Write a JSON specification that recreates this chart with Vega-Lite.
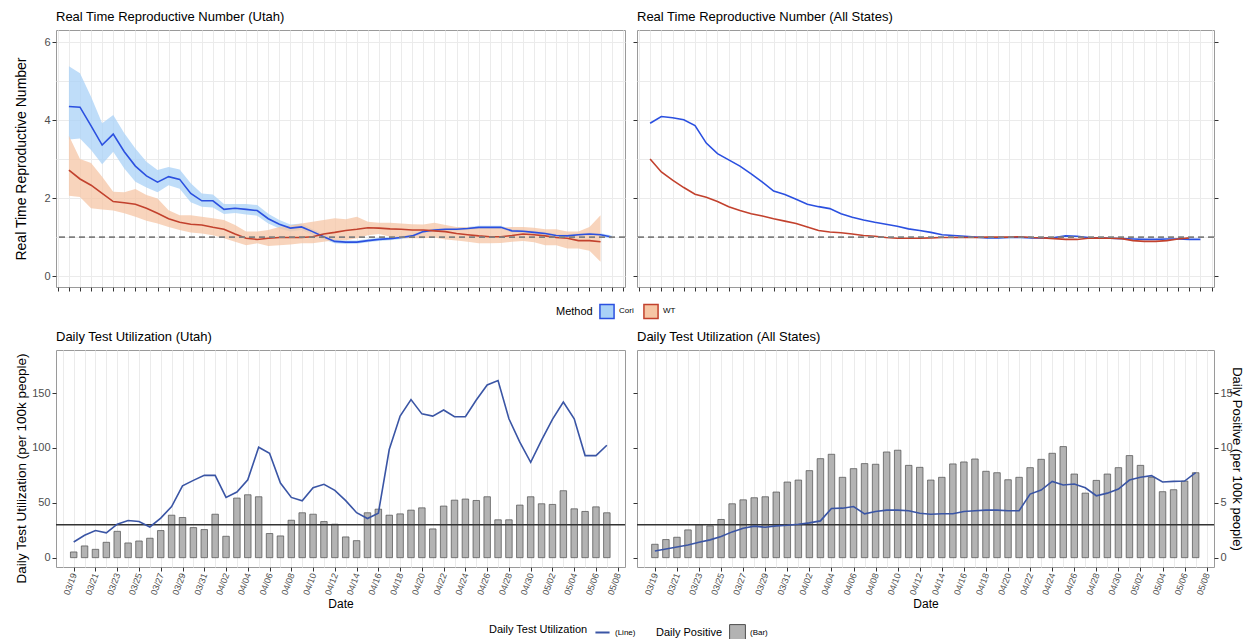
{
  "$schema": "https://vega.github.io/schema/vega-lite/v6.json",
  "padding": {"left": 13, "top": 10, "right": 0, "bottom": 0},
  "spacing": 8,
  "datasets": {
    "utah_rt": [
      {"date":"2020-03-19","method":"Cori","rt":4.35,"lo":3.5,"hi":5.38},
      {"date":"2020-03-20","method":"Cori","rt":4.33,"lo":3.53,"hi":5.2},
      {"date":"2020-03-21","method":"Cori","rt":3.85,"lo":3.23,"hi":4.6},
      {"date":"2020-03-22","method":"Cori","rt":3.36,"lo":2.87,"hi":3.92},
      {"date":"2020-03-23","method":"Cori","rt":3.64,"lo":3.19,"hi":4.13},
      {"date":"2020-03-24","method":"Cori","rt":3.19,"lo":2.76,"hi":3.66},
      {"date":"2020-03-25","method":"Cori","rt":2.82,"lo":2.42,"hi":3.27},
      {"date":"2020-03-26","method":"Cori","rt":2.57,"lo":2.27,"hi":2.93},
      {"date":"2020-03-27","method":"Cori","rt":2.41,"lo":2.15,"hi":2.72},
      {"date":"2020-03-28","method":"Cori","rt":2.55,"lo":2.33,"hi":2.8},
      {"date":"2020-03-29","method":"Cori","rt":2.48,"lo":2.24,"hi":2.73},
      {"date":"2020-03-30","method":"Cori","rt":2.12,"lo":1.89,"hi":2.38},
      {"date":"2020-03-31","method":"Cori","rt":1.93,"lo":1.78,"hi":2.12},
      {"date":"2020-04-01","method":"Cori","rt":1.93,"lo":1.76,"hi":2.09},
      {"date":"2020-04-02","method":"Cori","rt":1.71,"lo":1.59,"hi":1.85},
      {"date":"2020-04-03","method":"Cori","rt":1.74,"lo":1.62,"hi":1.85},
      {"date":"2020-04-04","method":"Cori","rt":1.71,"lo":1.58,"hi":1.85},
      {"date":"2020-04-05","method":"Cori","rt":1.68,"lo":1.55,"hi":1.82},
      {"date":"2020-04-06","method":"Cori","rt":1.47,"lo":1.35,"hi":1.6},
      {"date":"2020-04-07","method":"Cori","rt":1.33,"lo":1.22,"hi":1.44},
      {"date":"2020-04-08","method":"Cori","rt":1.23,"lo":1.14,"hi":1.32},
      {"date":"2020-04-09","method":"Cori","rt":1.26,"lo":1.18,"hi":1.35},
      {"date":"2020-04-10","method":"Cori","rt":1.14,"lo":1.06,"hi":1.2},
      {"date":"2020-04-11","method":"Cori","rt":1.01,"lo":0.94,"hi":1.08},
      {"date":"2020-04-12","method":"Cori","rt":0.89,"lo":0.84,"hi":0.94},
      {"date":"2020-04-13","method":"Cori","rt":0.87,"lo":0.82,"hi":0.91},
      {"date":"2020-04-14","method":"Cori","rt":0.87,"lo":0.83,"hi":0.91},
      {"date":"2020-04-15","method":"Cori","rt":0.91,"lo":0.87,"hi":0.95},
      {"date":"2020-04-16","method":"Cori","rt":0.94,"lo":0.9,"hi":0.98},
      {"date":"2020-04-17","method":"Cori","rt":0.96,"lo":0.92,"hi":1.0},
      {"date":"2020-04-18","method":"Cori","rt":0.99,"lo":0.95,"hi":1.03},
      {"date":"2020-04-19","method":"Cori","rt":1.03,"lo":0.99,"hi":1.07},
      {"date":"2020-04-20","method":"Cori","rt":1.14,"lo":1.1,"hi":1.18},
      {"date":"2020-04-21","method":"Cori","rt":1.18,"lo":1.14,"hi":1.22},
      {"date":"2020-04-22","method":"Cori","rt":1.2,"lo":1.16,"hi":1.24},
      {"date":"2020-04-23","method":"Cori","rt":1.2,"lo":1.16,"hi":1.24},
      {"date":"2020-04-24","method":"Cori","rt":1.22,"lo":1.18,"hi":1.26},
      {"date":"2020-04-25","method":"Cori","rt":1.25,"lo":1.21,"hi":1.29},
      {"date":"2020-04-26","method":"Cori","rt":1.25,"lo":1.21,"hi":1.29},
      {"date":"2020-04-27","method":"Cori","rt":1.25,"lo":1.21,"hi":1.29},
      {"date":"2020-04-28","method":"Cori","rt":1.16,"lo":1.12,"hi":1.2},
      {"date":"2020-04-29","method":"Cori","rt":1.15,"lo":1.11,"hi":1.19},
      {"date":"2020-04-30","method":"Cori","rt":1.12,"lo":1.08,"hi":1.16},
      {"date":"2020-05-01","method":"Cori","rt":1.09,"lo":1.05,"hi":1.13},
      {"date":"2020-05-02","method":"Cori","rt":1.04,"lo":1.0,"hi":1.08},
      {"date":"2020-05-03","method":"Cori","rt":1.03,"lo":0.99,"hi":1.07},
      {"date":"2020-05-04","method":"Cori","rt":1.06,"lo":1.02,"hi":1.1},
      {"date":"2020-05-05","method":"Cori","rt":1.08,"lo":1.04,"hi":1.12},
      {"date":"2020-05-06","method":"Cori","rt":1.06,"lo":1.02,"hi":1.1},
      {"date":"2020-05-07","method":"Cori","rt":1.0,"lo":0.96,"hi":1.04},
      {"date":"2020-03-19","method":"WT","rt":2.72,"lo":2.06,"hi":3.6},
      {"date":"2020-03-20","method":"WT","rt":2.49,"lo":2.03,"hi":3.0},
      {"date":"2020-03-21","method":"WT","rt":2.33,"lo":1.74,"hi":2.9},
      {"date":"2020-03-22","method":"WT","rt":2.12,"lo":1.71,"hi":2.55},
      {"date":"2020-03-23","method":"WT","rt":1.91,"lo":1.68,"hi":2.16},
      {"date":"2020-03-24","method":"WT","rt":1.88,"lo":1.61,"hi":2.15},
      {"date":"2020-03-25","method":"WT","rt":1.84,"lo":1.52,"hi":2.23},
      {"date":"2020-03-26","method":"WT","rt":1.74,"lo":1.42,"hi":2.08},
      {"date":"2020-03-27","method":"WT","rt":1.61,"lo":1.35,"hi":1.99},
      {"date":"2020-03-28","method":"WT","rt":1.47,"lo":1.26,"hi":1.69},
      {"date":"2020-03-29","method":"WT","rt":1.38,"lo":1.18,"hi":1.56},
      {"date":"2020-03-30","method":"WT","rt":1.33,"lo":1.12,"hi":1.56},
      {"date":"2020-03-31","method":"WT","rt":1.31,"lo":1.09,"hi":1.52},
      {"date":"2020-04-01","method":"WT","rt":1.25,"lo":1.05,"hi":1.48},
      {"date":"2020-04-02","method":"WT","rt":1.2,"lo":0.97,"hi":1.44},
      {"date":"2020-04-03","method":"WT","rt":1.08,"lo":0.88,"hi":1.31},
      {"date":"2020-04-04","method":"WT","rt":0.97,"lo":0.79,"hi":1.14},
      {"date":"2020-04-05","method":"WT","rt":0.94,"lo":0.84,"hi":1.14},
      {"date":"2020-04-06","method":"WT","rt":0.97,"lo":0.77,"hi":1.18},
      {"date":"2020-04-07","method":"WT","rt":0.99,"lo":0.79,"hi":1.26},
      {"date":"2020-04-08","method":"WT","rt":0.99,"lo":0.81,"hi":1.3},
      {"date":"2020-04-09","method":"WT","rt":0.99,"lo":0.84,"hi":1.35},
      {"date":"2020-04-10","method":"WT","rt":1.01,"lo":0.84,"hi":1.39},
      {"date":"2020-04-11","method":"WT","rt":1.08,"lo":0.88,"hi":1.44},
      {"date":"2020-04-12","method":"WT","rt":1.12,"lo":0.92,"hi":1.48},
      {"date":"2020-04-13","method":"WT","rt":1.17,"lo":0.92,"hi":1.46},
      {"date":"2020-04-14","method":"WT","rt":1.2,"lo":0.97,"hi":1.52},
      {"date":"2020-04-15","method":"WT","rt":1.24,"lo":1.05,"hi":1.39},
      {"date":"2020-04-16","method":"WT","rt":1.23,"lo":1.08,"hi":1.37},
      {"date":"2020-04-17","method":"WT","rt":1.21,"lo":1.01,"hi":1.37},
      {"date":"2020-04-18","method":"WT","rt":1.2,"lo":0.97,"hi":1.35},
      {"date":"2020-04-19","method":"WT","rt":1.18,"lo":0.97,"hi":1.33},
      {"date":"2020-04-20","method":"WT","rt":1.18,"lo":0.97,"hi":1.32},
      {"date":"2020-04-21","method":"WT","rt":1.16,"lo":0.99,"hi":1.37},
      {"date":"2020-04-22","method":"WT","rt":1.14,"lo":0.94,"hi":1.31},
      {"date":"2020-04-23","method":"WT","rt":1.09,"lo":0.91,"hi":1.26},
      {"date":"2020-04-24","method":"WT","rt":1.06,"lo":0.88,"hi":1.25},
      {"date":"2020-04-25","method":"WT","rt":1.03,"lo":0.84,"hi":1.26},
      {"date":"2020-04-26","method":"WT","rt":1.01,"lo":0.84,"hi":1.25},
      {"date":"2020-04-27","method":"WT","rt":1.01,"lo":0.85,"hi":1.24},
      {"date":"2020-04-28","method":"WT","rt":1.04,"lo":0.88,"hi":1.26},
      {"date":"2020-04-29","method":"WT","rt":1.08,"lo":0.9,"hi":1.26},
      {"date":"2020-04-30","method":"WT","rt":1.06,"lo":0.87,"hi":1.24},
      {"date":"2020-05-01","method":"WT","rt":1.03,"lo":0.79,"hi":1.2},
      {"date":"2020-05-02","method":"WT","rt":0.99,"lo":0.79,"hi":1.2},
      {"date":"2020-05-03","method":"WT","rt":0.97,"lo":0.71,"hi":1.14},
      {"date":"2020-05-04","method":"WT","rt":0.91,"lo":0.71,"hi":1.14},
      {"date":"2020-05-05","method":"WT","rt":0.91,"lo":0.65,"hi":1.26},
      {"date":"2020-05-06","method":"WT","rt":0.88,"lo":0.37,"hi":1.56}
    ],
    "all_rt": [
      {"date":"2020-03-19","method":"Cori","rt":3.92},
      {"date":"2020-03-20","method":"Cori","rt":4.09},
      {"date":"2020-03-21","method":"Cori","rt":4.06},
      {"date":"2020-03-22","method":"Cori","rt":4.01},
      {"date":"2020-03-23","method":"Cori","rt":3.86},
      {"date":"2020-03-24","method":"Cori","rt":3.41},
      {"date":"2020-03-25","method":"Cori","rt":3.14},
      {"date":"2020-03-26","method":"Cori","rt":2.98},
      {"date":"2020-03-27","method":"Cori","rt":2.82},
      {"date":"2020-03-28","method":"Cori","rt":2.62},
      {"date":"2020-03-29","method":"Cori","rt":2.41},
      {"date":"2020-03-30","method":"Cori","rt":2.18},
      {"date":"2020-03-31","method":"Cori","rt":2.09},
      {"date":"2020-04-01","method":"Cori","rt":1.97},
      {"date":"2020-04-02","method":"Cori","rt":1.84},
      {"date":"2020-04-03","method":"Cori","rt":1.78},
      {"date":"2020-04-04","method":"Cori","rt":1.73},
      {"date":"2020-04-05","method":"Cori","rt":1.6},
      {"date":"2020-04-06","method":"Cori","rt":1.51},
      {"date":"2020-04-07","method":"Cori","rt":1.44},
      {"date":"2020-04-08","method":"Cori","rt":1.38},
      {"date":"2020-04-09","method":"Cori","rt":1.33},
      {"date":"2020-04-10","method":"Cori","rt":1.28},
      {"date":"2020-04-11","method":"Cori","rt":1.21},
      {"date":"2020-04-12","method":"Cori","rt":1.17},
      {"date":"2020-04-13","method":"Cori","rt":1.12},
      {"date":"2020-04-14","method":"Cori","rt":1.06},
      {"date":"2020-04-15","method":"Cori","rt":1.04},
      {"date":"2020-04-16","method":"Cori","rt":1.02},
      {"date":"2020-04-17","method":"Cori","rt":1.0},
      {"date":"2020-04-18","method":"Cori","rt":0.98},
      {"date":"2020-04-19","method":"Cori","rt":0.98},
      {"date":"2020-04-20","method":"Cori","rt":0.99},
      {"date":"2020-04-21","method":"Cori","rt":0.99},
      {"date":"2020-04-22","method":"Cori","rt":0.98},
      {"date":"2020-04-23","method":"Cori","rt":0.98},
      {"date":"2020-04-24","method":"Cori","rt":0.99},
      {"date":"2020-04-25","method":"Cori","rt":1.03},
      {"date":"2020-04-26","method":"Cori","rt":1.02},
      {"date":"2020-04-27","method":"Cori","rt":0.99},
      {"date":"2020-04-28","method":"Cori","rt":0.98},
      {"date":"2020-04-29","method":"Cori","rt":0.97},
      {"date":"2020-04-30","method":"Cori","rt":0.96},
      {"date":"2020-05-01","method":"Cori","rt":0.95},
      {"date":"2020-05-02","method":"Cori","rt":0.94},
      {"date":"2020-05-03","method":"Cori","rt":0.94},
      {"date":"2020-05-04","method":"Cori","rt":0.95},
      {"date":"2020-05-05","method":"Cori","rt":0.95},
      {"date":"2020-05-06","method":"Cori","rt":0.94},
      {"date":"2020-05-07","method":"Cori","rt":0.94},
      {"date":"2020-03-19","method":"WT","rt":3.0},
      {"date":"2020-03-20","method":"WT","rt":2.67},
      {"date":"2020-03-21","method":"WT","rt":2.46},
      {"date":"2020-03-22","method":"WT","rt":2.27},
      {"date":"2020-03-23","method":"WT","rt":2.1},
      {"date":"2020-03-24","method":"WT","rt":2.02},
      {"date":"2020-03-25","method":"WT","rt":1.91},
      {"date":"2020-03-26","method":"WT","rt":1.78},
      {"date":"2020-03-27","method":"WT","rt":1.68},
      {"date":"2020-03-28","method":"WT","rt":1.6},
      {"date":"2020-03-29","method":"WT","rt":1.54},
      {"date":"2020-03-30","method":"WT","rt":1.47},
      {"date":"2020-03-31","method":"WT","rt":1.41},
      {"date":"2020-04-01","method":"WT","rt":1.35},
      {"date":"2020-04-02","method":"WT","rt":1.26},
      {"date":"2020-04-03","method":"WT","rt":1.17},
      {"date":"2020-04-04","method":"WT","rt":1.13},
      {"date":"2020-04-05","method":"WT","rt":1.11},
      {"date":"2020-04-06","method":"WT","rt":1.08},
      {"date":"2020-04-07","method":"WT","rt":1.04},
      {"date":"2020-04-08","method":"WT","rt":1.02},
      {"date":"2020-04-09","method":"WT","rt":0.99},
      {"date":"2020-04-10","method":"WT","rt":0.97},
      {"date":"2020-04-11","method":"WT","rt":0.97},
      {"date":"2020-04-12","method":"WT","rt":0.97},
      {"date":"2020-04-13","method":"WT","rt":0.98},
      {"date":"2020-04-14","method":"WT","rt":0.99},
      {"date":"2020-04-15","method":"WT","rt":0.99},
      {"date":"2020-04-16","method":"WT","rt":0.99},
      {"date":"2020-04-17","method":"WT","rt":0.99},
      {"date":"2020-04-18","method":"WT","rt":1.0},
      {"date":"2020-04-19","method":"WT","rt":1.0},
      {"date":"2020-04-20","method":"WT","rt":1.0},
      {"date":"2020-04-21","method":"WT","rt":1.01},
      {"date":"2020-04-22","method":"WT","rt":0.99},
      {"date":"2020-04-23","method":"WT","rt":0.98},
      {"date":"2020-04-24","method":"WT","rt":0.96},
      {"date":"2020-04-25","method":"WT","rt":0.94},
      {"date":"2020-04-26","method":"WT","rt":0.94},
      {"date":"2020-04-27","method":"WT","rt":0.97},
      {"date":"2020-04-28","method":"WT","rt":0.98},
      {"date":"2020-04-29","method":"WT","rt":0.97},
      {"date":"2020-04-30","method":"WT","rt":0.96},
      {"date":"2020-05-01","method":"WT","rt":0.91},
      {"date":"2020-05-02","method":"WT","rt":0.89},
      {"date":"2020-05-03","method":"WT","rt":0.89},
      {"date":"2020-05-04","method":"WT","rt":0.91},
      {"date":"2020-05-05","method":"WT","rt":0.95},
      {"date":"2020-05-06","method":"WT","rt":0.98}
    ],
    "utah_tests": [
      {"date":"2020-03-19","tests":14.3,"positive":0.52},
      {"date":"2020-03-20","tests":20.4,"positive":1.07},
      {"date":"2020-03-21","tests":24.7,"positive":0.76},
      {"date":"2020-03-22","tests":22.6,"positive":1.4},
      {"date":"2020-03-23","tests":30.5,"positive":2.4},
      {"date":"2020-03-24","tests":33.8,"positive":1.34},
      {"date":"2020-03-25","tests":32.9,"positive":1.52},
      {"date":"2020-03-26","tests":28.0,"positive":1.77},
      {"date":"2020-03-27","tests":36.0,"positive":2.47},
      {"date":"2020-03-28","tests":46.6,"positive":3.87},
      {"date":"2020-03-29","tests":65.5,"positive":3.66},
      {"date":"2020-03-30","tests":70.4,"positive":2.74},
      {"date":"2020-03-31","tests":75.0,"positive":2.56},
      {"date":"2020-04-01","tests":75.0,"positive":3.96},
      {"date":"2020-04-02","tests":54.9,"positive":1.95},
      {"date":"2020-04-03","tests":59.8,"positive":5.43},
      {"date":"2020-04-04","tests":71.0,"positive":5.73},
      {"date":"2020-04-05","tests":100.6,"positive":5.55},
      {"date":"2020-04-06","tests":95.1,"positive":2.2},
      {"date":"2020-04-07","tests":68.0,"positive":1.98},
      {"date":"2020-04-08","tests":54.9,"positive":3.41},
      {"date":"2020-04-09","tests":51.8,"positive":4.09},
      {"date":"2020-04-10","tests":63.7,"positive":3.96},
      {"date":"2020-04-11","tests":66.8,"positive":3.29},
      {"date":"2020-04-12","tests":61.3,"positive":3.05},
      {"date":"2020-04-13","tests":52.0,"positive":1.89},
      {"date":"2020-04-14","tests":41.0,"positive":1.55},
      {"date":"2020-04-15","tests":35.7,"positive":4.09},
      {"date":"2020-04-16","tests":40.5,"positive":4.42},
      {"date":"2020-04-17","tests":98.5,"positive":3.87},
      {"date":"2020-04-18","tests":129.0,"positive":3.99},
      {"date":"2020-04-19","tests":144.0,"positive":4.33},
      {"date":"2020-04-20","tests":131.0,"positive":4.54},
      {"date":"2020-04-21","tests":129.0,"positive":2.62},
      {"date":"2020-04-22","tests":134.5,"positive":4.7},
      {"date":"2020-04-23","tests":128.4,"positive":5.24},
      {"date":"2020-04-24","tests":128.4,"positive":5.34},
      {"date":"2020-04-25","tests":143.6,"positive":5.21},
      {"date":"2020-04-26","tests":157.3,"positive":5.55},
      {"date":"2020-04-27","tests":161.3,"positive":3.45},
      {"date":"2020-04-28","tests":126.5,"positive":3.45},
      {"date":"2020-04-29","tests":105.2,"positive":4.79},
      {"date":"2020-04-30","tests":86.9,"positive":5.55},
      {"date":"2020-05-01","tests":107.0,"positive":4.91},
      {"date":"2020-05-02","tests":126.0,"positive":4.85},
      {"date":"2020-05-03","tests":141.8,"positive":6.1},
      {"date":"2020-05-04","tests":126.5,"positive":4.45},
      {"date":"2020-05-05","tests":93.0,"positive":4.21},
      {"date":"2020-05-06","tests":93.0,"positive":4.63},
      {"date":"2020-05-07","tests":102.4,"positive":4.09}
    ],
    "all_tests": [
      {"date":"2020-03-19","tests":6.1,"positive":1.22},
      {"date":"2020-03-20","tests":7.9,"positive":1.65},
      {"date":"2020-03-21","tests":9.8,"positive":1.86},
      {"date":"2020-03-22","tests":11.6,"positive":2.53},
      {"date":"2020-03-23","tests":14.0,"positive":3.02},
      {"date":"2020-03-24","tests":16.2,"positive":2.9},
      {"date":"2020-03-25","tests":19.2,"positive":3.48},
      {"date":"2020-03-26","tests":23.5,"positive":4.91},
      {"date":"2020-03-27","tests":26.8,"positive":5.27},
      {"date":"2020-03-28","tests":28.7,"positive":5.46},
      {"date":"2020-03-29","tests":27.7,"positive":5.55},
      {"date":"2020-03-30","tests":29.0,"positive":5.98},
      {"date":"2020-03-31","tests":29.6,"positive":6.89},
      {"date":"2020-04-01","tests":30.5,"positive":7.07},
      {"date":"2020-04-02","tests":31.7,"positive":7.93},
      {"date":"2020-04-03","tests":33.5,"positive":9.02},
      {"date":"2020-04-04","tests":44.8,"positive":9.42},
      {"date":"2020-04-05","tests":45.1,"positive":7.32},
      {"date":"2020-04-06","tests":46.6,"positive":8.11},
      {"date":"2020-04-07","tests":39.9,"positive":8.57},
      {"date":"2020-04-08","tests":42.0,"positive":8.51},
      {"date":"2020-04-09","tests":43.3,"positive":9.63},
      {"date":"2020-04-10","tests":43.3,"positive":9.79},
      {"date":"2020-04-11","tests":42.7,"positive":8.41},
      {"date":"2020-04-12","tests":40.5,"positive":8.23},
      {"date":"2020-04-13","tests":39.6,"positive":7.07},
      {"date":"2020-04-14","tests":40.0,"positive":7.32},
      {"date":"2020-04-15","tests":40.0,"positive":8.54},
      {"date":"2020-04-16","tests":42.0,"positive":8.72},
      {"date":"2020-04-17","tests":42.7,"positive":8.99},
      {"date":"2020-04-18","tests":43.3,"positive":7.87},
      {"date":"2020-04-19","tests":43.3,"positive":7.74},
      {"date":"2020-04-20","tests":42.7,"positive":7.1},
      {"date":"2020-04-21","tests":42.7,"positive":7.32},
      {"date":"2020-04-22","tests":57.9,"positive":8.2},
      {"date":"2020-04-23","tests":61.6,"positive":8.96},
      {"date":"2020-04-24","tests":69.5,"positive":9.51},
      {"date":"2020-04-25","tests":66.2,"positive":10.12},
      {"date":"2020-04-26","tests":67.1,"positive":7.62},
      {"date":"2020-04-27","tests":63.7,"positive":5.88},
      {"date":"2020-04-28","tests":56.4,"positive":7.04},
      {"date":"2020-04-29","tests":58.8,"positive":7.62},
      {"date":"2020-04-30","tests":62.5,"positive":8.2},
      {"date":"2020-05-01","tests":70.7,"positive":9.3},
      {"date":"2020-05-02","tests":73.2,"positive":8.41},
      {"date":"2020-05-03","tests":74.7,"positive":7.32},
      {"date":"2020-05-04","tests":68.9,"positive":6.01},
      {"date":"2020-05-05","tests":69.5,"positive":6.19},
      {"date":"2020-05-06","tests":69.8,"positive":6.98},
      {"date":"2020-05-07","tests":77.4,"positive":7.74}
    ]
  },
  "vconcat": [
    {
      "spacing": 5,
      "hconcat": [
        {
          "title": "Real Time Reproductive Number (Utah)",
          "width": 569, "height": 257,
          "layer": [
            {"data": {"name": "utah_rt"},
             "mark": {"type": "area", "fillOpacity": 0.75},
             "encoding": {
               "x": {"field": "date", "type": "temporal", "title": null,
                 "scale": {"type": "utc", "domain": [{"year":2020,"month":3,"date":17,"hours":20,"utc":true},{"year":2020,"month":5,"date":8,"hours":5,"utc":true}]},
                 "axis": {"tickCount": {"interval": "day", "step": 1}, "labels": false, "grid": true}},
               "y": {"field": "lo", "type": "quantitative", "stack": null, "scale": {"domain": [-0.28, 6.31], "nice": false, "zero": false},
                 "axis": {"title": "Real Time Reproductive Number", "values": [0,1,2,3,4,5,6], "labelExpr": "datum.value % 2 == 0 ? datum.label : ''", "tickOpacity": {"condition": {"test": "datum.value % 2 == 0", "value": 1}, "value": 0}, "minExtent": 24, "maxExtent": 24, "titlePadding": 4}},
               "y2": {"field": "hi"},
               "fill": {"field": "method", "type": "nominal", "title": "Method", "scale": {"domain": ["Cori","WT"], "range": ["#a9d1f7","#f6c6a5"]}, "legend": {"title": "Method", "symbolType": "square", "symbolStrokeWidth": 1.5, "symbolSize": 200, "offset": 11}}
             }},
            {"data": {"name": "utah_rt"},
             "mark": {"type": "line", "strokeWidth": 1.6},
             "encoding": {
               "x": {"field": "date", "type": "temporal", "title": null,
                 "scale": {"type": "utc", "domain": [{"year":2020,"month":3,"date":17,"hours":20,"utc":true},{"year":2020,"month":5,"date":8,"hours":5,"utc":true}]},
                 "axis": {"tickCount": {"interval": "day", "step": 1}, "labels": false, "grid": true}},
               "y": {"field": "rt", "type": "quantitative", "scale": {"domain": [-0.28, 6.31], "nice": false, "zero": false},
                 "axis": {"title": "Real Time Reproductive Number", "values": [0,1,2,3,4,5,6], "labelExpr": "datum.value % 2 == 0 ? datum.label : ''", "tickOpacity": {"condition": {"test": "datum.value % 2 == 0", "value": 1}, "value": 0}, "minExtent": 24, "maxExtent": 24, "titlePadding": 4}},
               "stroke": {"field": "method", "type": "nominal", "title": "Method", "scale": {"domain": ["Cori","WT"], "range": ["#2b50e0","#c2412d"]}, "legend": {"title": "Method", "symbolType": "square", "symbolStrokeWidth": 1.5, "symbolSize": 200, "offset": 11}}
             }},
            {"data": {"values": [{}]},
             "mark": {"type": "rule", "strokeDash": [6,4], "color": "#7f7f7f", "strokeWidth": 1.8},
             "encoding": {
               "y": {"datum": 1, "type": "quantitative", "scale": {"domain": [-0.28, 6.31], "nice": false, "zero": false},
                 "axis": {"title": "Real Time Reproductive Number", "values": [0,1,2,3,4,5,6], "labelExpr": "datum.value % 2 == 0 ? datum.label : ''", "tickOpacity": {"condition": {"test": "datum.value % 2 == 0", "value": 1}, "value": 0}, "minExtent": 24, "maxExtent": 24, "titlePadding": 4}}
             }}
          ]
        },
        {
          "title": "Real Time Reproductive Number (All States)",
          "width": 577, "height": 257,
          "layer": [
            {"data": {"name": "all_rt"},
             "mark": {"type": "line", "strokeWidth": 1.6},
             "encoding": {
               "x": {"field": "date", "type": "temporal", "title": null,
                 "scale": {"type": "utc", "domain": [{"year":2020,"month":3,"date":17,"hours":20,"utc":true},{"year":2020,"month":5,"date":8,"hours":5,"utc":true}]},
                 "axis": {"tickCount": {"interval": "day", "step": 1}, "labels": false, "grid": true}},
               "y": {"field": "rt", "type": "quantitative", "scale": {"domain": [-0.28, 6.31], "nice": false, "zero": false},
                 "axis": {"title": null, "labels": false, "values": [0,1,2,3,4,5,6], "tickOpacity": {"condition": {"test": "datum.value % 2 == 0", "value": 1}, "value": 0}, "minExtent": 4, "maxExtent": 4}},
               "stroke": {"field": "method", "type": "nominal", "title": "Method", "scale": {"domain": ["Cori","WT"], "range": ["#2b50e0","#c2412d"]}, "legend": {"title": "Method", "symbolType": "square", "symbolStrokeWidth": 1.5, "symbolSize": 200, "offset": 11}}
             }},
            {"data": {"values": [{}]},
             "mark": {"type": "rule", "strokeDash": [6,4], "color": "#7f7f7f", "strokeWidth": 1.8},
             "encoding": {
               "y": {"datum": 1, "type": "quantitative", "scale": {"domain": [-0.28, 6.31], "nice": false, "zero": false},
                 "axis": {"orient": "right", "title": null, "labels": false, "grid": false, "values": [0,2,4,6], "minExtent": 4, "maxExtent": 4}}
             }}
          ],
          "resolve": {"axis": {"y": "independent"}}
        }
      ]
    },
    {
      "spacing": 5,
      "hconcat": [
        {
          "title": "Daily Test Utilization (Utah)",
          "width": 569, "height": 217,
          "layer": [
            {"data": {"name": "utah_tests"},
             "mark": {"type": "bar", "width": 6.5, "fill": "#b3b3b3", "stroke": "#4d4d4d", "strokeWidth": 0.7},
             "encoding": {
               "x": {"field": "date", "type": "temporal", "title": "Date",
                 "scale": {"type": "utc", "domain": [{"year":2020,"month":3,"date":17,"hours":20,"utc":true},{"year":2020,"month":5,"date":8,"hours":5,"utc":true}]},
                 "axis": {"tickCount": {"interval": "day", "step": 1}, "labelExpr": "round(datum.value / 86400000) % 2 == 0 ? utcFormat(datum.value, '%m/%d') : ''", "labelAngle": -70, "labelOverlap": false, "labelBound": false, "labelFontSize": 9, "tickOpacity": {"condition": {"test": "round(datum.value / 86400000) % 2 == 0", "value": 1}, "value": 0}, "titlePadding": 3, "titleFontSize": 12}},
               "y": {"field": "positive", "type": "quantitative", "scale": {"domain": [-0.85, 18.92], "nice": false, "zero": false}, "axis": null}
             }},
            {"data": {"values": [{}]},
             "mark": {"type": "rule", "color": "#333333", "strokeWidth": 1.5},
             "encoding": {
               "y": {"datum": 30, "type": "quantitative", "scale": {"domain": [-8.5, 189.2], "nice": false, "zero": false}, "axis": null}
             }},
            {"data": {"name": "utah_tests"},
             "mark": {"type": "line", "strokeWidth": 1.6},
             "encoding": {
               "x": {"field": "date", "type": "temporal", "title": "Date",
                 "scale": {"type": "utc", "domain": [{"year":2020,"month":3,"date":17,"hours":20,"utc":true},{"year":2020,"month":5,"date":8,"hours":5,"utc":true}]},
                 "axis": {"tickCount": {"interval": "day", "step": 1}, "labelExpr": "round(datum.value / 86400000) % 2 == 0 ? utcFormat(datum.value, '%m/%d') : ''", "labelAngle": -70, "labelOverlap": false, "labelBound": false, "labelFontSize": 9, "tickOpacity": {"condition": {"test": "round(datum.value / 86400000) % 2 == 0", "value": 1}, "value": 0}, "titlePadding": 3, "titleFontSize": 12}},
               "y": {"field": "tests", "type": "quantitative", "scale": {"domain": [-8.5, 189.2], "nice": false, "zero": false},
                 "axis": {"orient": "left", "title": "Daily Test Utilization (per 100k people)", "titleY": 118, "titleFontSize": 13.5, "values": [0,25,50,75,100,125,150,175], "labelExpr": "datum.value % 50 == 0 ? datum.label : ''", "tickOpacity": {"condition": {"test": "datum.value % 50 == 0", "value": 1}, "value": 0}, "minExtent": 24, "maxExtent": 24, "titlePadding": 4}},
               "color": {"datum": "(Line)", "type": "nominal", "scale": {"range": ["#3a55a5"]}, "legend": {"title": "Daily Test Utilization", "symbolType": "stroke", "symbolStrokeWidth": 2, "symbolSize": 200}}
             }}
          ],
          "resolve": {"scale": {"y": "independent"}}
        },
        {
          "title": "Daily Test Utilization (All States)",
          "width": 577, "height": 217,
          "layer": [
            {"data": {"name": "all_tests"},
             "mark": {"type": "bar", "width": 6.5, "stroke": "#4d4d4d", "strokeWidth": 0.7},
             "encoding": {
               "x": {"field": "date", "type": "temporal", "title": "Date",
                 "scale": {"type": "utc", "domain": [{"year":2020,"month":3,"date":17,"hours":20,"utc":true},{"year":2020,"month":5,"date":8,"hours":5,"utc":true}]},
                 "axis": {"tickCount": {"interval": "day", "step": 1}, "labelExpr": "round(datum.value / 86400000) % 2 == 0 ? utcFormat(datum.value, '%m/%d') : ''", "labelAngle": -70, "labelOverlap": false, "labelBound": false, "labelFontSize": 9, "tickOpacity": {"condition": {"test": "round(datum.value / 86400000) % 2 == 0", "value": 1}, "value": 0}, "titlePadding": 3, "titleFontSize": 12}},
               "y": {"field": "positive", "type": "quantitative", "scale": {"domain": [-0.85, 18.92], "nice": false, "zero": false},
                 "axis": {"orient": "right", "title": "Daily Positive (per 100k people)", "values": [0,5,10,15], "grid": false, "minExtent": 15, "maxExtent": 15, "titlePadding": 0, "titleFontSize": 13}},
               "fill": {"datum": "(Bar)", "type": "nominal", "scale": {"range": ["#b3b3b3"]}, "legend": {"title": "Daily Positive", "symbolType": "square", "symbolStrokeColor": "#4d4d4d", "symbolStrokeWidth": 1, "symbolSize": 250}}
             }},
            {"data": {"values": [{}]},
             "mark": {"type": "rule", "color": "#333333", "strokeWidth": 1.5},
             "encoding": {
               "y": {"datum": 30, "type": "quantitative", "scale": {"domain": [-8.5, 189.2], "nice": false, "zero": false}, "axis": null}
             }},
            {"data": {"name": "all_tests"},
             "mark": {"type": "line", "strokeWidth": 1.6, "color": "#3a55a5"},
             "encoding": {
               "x": {"field": "date", "type": "temporal", "title": "Date",
                 "scale": {"type": "utc", "domain": [{"year":2020,"month":3,"date":17,"hours":20,"utc":true},{"year":2020,"month":5,"date":8,"hours":5,"utc":true}]},
                 "axis": {"tickCount": {"interval": "day", "step": 1}, "labelExpr": "round(datum.value / 86400000) % 2 == 0 ? utcFormat(datum.value, '%m/%d') : ''", "labelAngle": -70, "labelOverlap": false, "labelBound": false, "labelFontSize": 9, "tickOpacity": {"condition": {"test": "round(datum.value / 86400000) % 2 == 0", "value": 1}, "value": 0}, "titlePadding": 3, "titleFontSize": 12}},
               "y": {"field": "tests", "type": "quantitative", "scale": {"domain": [-8.5, 189.2], "nice": false, "zero": false},
                 "axis": {"orient": "left", "title": null, "labels": false, "values": [0,25,50,75,100,125,150,175], "tickOpacity": {"condition": {"test": "datum.value % 50 == 0", "value": 1}, "value": 0}, "minExtent": 4, "maxExtent": 4}}
             }}
          ],
          "resolve": {"scale": {"y": "independent"}}
        }
      ]
    }
  ],
  "resolve": {"scale": {"fill": "independent", "stroke": "independent", "color": "independent"}},
  "config": {
    "font": "Liberation Sans",
    "view": {"stroke": "#9a9a9a", "strokeWidth": 1},
    "axis": {"domain": false, "gridColor": "#ebebeb", "gridWidth": 1, "tickColor": "#333333", "tickSize": 4, "labelColor": "#4d4d4d", "labelFontSize": 11, "labelPadding": 2, "titleColor": "#000000", "titleFontWeight": "normal", "titleFontSize": 14, "labelFont": "Liberation Sans", "titleFont": "Liberation Sans"},
    "title": {"anchor": "start", "frame": "group", "fontSize": 13, "fontWeight": "normal", "color": "#000000", "offset": 6, "font": "Liberation Sans"},
    "legend": {"orient": "bottom", "direction": "horizontal", "titleOrient": "left", "titleFontSize": 11, "titleFontWeight": "normal", "titleColor": "#000000", "labelFontSize": 8, "labelColor": "#000000", "offset": 13, "titlePadding": 6, "columnPadding": 6, "labelOffset": 4, "titleFont": "Liberation Sans", "labelFont": "Liberation Sans", "layout": {"bottom": {"anchor": "middle", "direction": "horizontal", "margin": 20}}}
  }
}
